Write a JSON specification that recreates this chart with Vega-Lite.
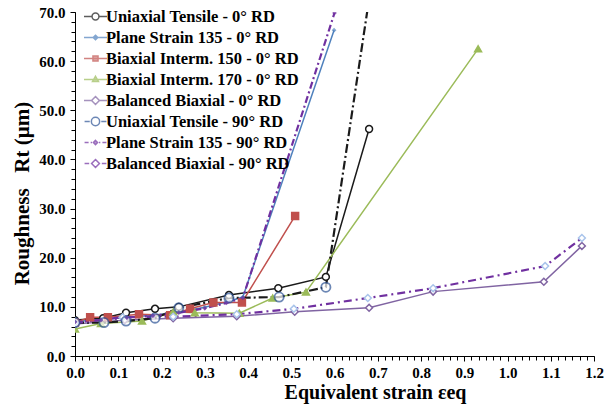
{
  "$schema": "https://vega.github.io/schema/vega-lite/v6.json",
  "width": 519,
  "height": 344,
  "autosize": {"type": "none"},
  "padding": {"left": 75, "top": 12, "right": 17, "bottom": 58},
  "background": "white",
  "config": {"view": {"stroke": null}, "font": "Liberation Serif"},
  "data": {"values": [
    {"s": "Uniaxial Tensile - 0° RD", "x": 0, "y": 7.3},
    {"s": "Uniaxial Tensile - 0° RD", "x": 0.065, "y": 7.7},
    {"s": "Uniaxial Tensile - 0° RD", "x": 0.118, "y": 8.8},
    {"s": "Uniaxial Tensile - 0° RD", "x": 0.185, "y": 9.6},
    {"s": "Uniaxial Tensile - 0° RD", "x": 0.24, "y": 10.0},
    {"s": "Uniaxial Tensile - 0° RD", "x": 0.356, "y": 12.4},
    {"s": "Uniaxial Tensile - 0° RD", "x": 0.47, "y": 13.8},
    {"s": "Uniaxial Tensile - 0° RD", "x": 0.58, "y": 16.1},
    {"s": "Uniaxial Tensile - 0° RD", "x": 0.68, "y": 46.2},
    {"s": "Plane Strain 135 - 0° RD", "x": 0, "y": 7.0},
    {"s": "Plane Strain 135 - 0° RD", "x": 0.06, "y": 7.4},
    {"s": "Plane Strain 135 - 0° RD", "x": 0.12, "y": 7.9},
    {"s": "Plane Strain 135 - 0° RD", "x": 0.18, "y": 8.3},
    {"s": "Plane Strain 135 - 0° RD", "x": 0.24, "y": 8.9},
    {"s": "Plane Strain 135 - 0° RD", "x": 0.3, "y": 9.9},
    {"s": "Plane Strain 135 - 0° RD", "x": 0.35, "y": 11.0},
    {"s": "Plane Strain 135 - 0° RD", "x": 0.388, "y": 12.0},
    {"s": "Plane Strain 135 - 0° RD", "x": 0.599, "y": 66.3},
    {"s": "Biaxial Interm. 150 - 0° RD", "x": 0, "y": 6.8},
    {"s": "Biaxial Interm. 150 - 0° RD", "x": 0.035, "y": 7.9},
    {"s": "Biaxial Interm. 150 - 0° RD", "x": 0.076, "y": 7.9},
    {"s": "Biaxial Interm. 150 - 0° RD", "x": 0.148, "y": 8.5},
    {"s": "Biaxial Interm. 150 - 0° RD", "x": 0.22, "y": 8.3},
    {"s": "Biaxial Interm. 150 - 0° RD", "x": 0.266, "y": 9.6},
    {"s": "Biaxial Interm. 150 - 0° RD", "x": 0.32, "y": 10.9},
    {"s": "Biaxial Interm. 150 - 0° RD", "x": 0.386, "y": 10.9},
    {"s": "Biaxial Interm. 150 - 0° RD", "x": 0.509, "y": 28.5},
    {"s": "Biaxial Interm. 170 - 0° RD", "x": 0, "y": 5.5},
    {"s": "Biaxial Interm. 170 - 0° RD", "x": 0.06, "y": 6.6},
    {"s": "Biaxial Interm. 170 - 0° RD", "x": 0.155, "y": 7.1},
    {"s": "Biaxial Interm. 170 - 0° RD", "x": 0.227, "y": 9.0},
    {"s": "Biaxial Interm. 170 - 0° RD", "x": 0.277, "y": 8.8},
    {"s": "Biaxial Interm. 170 - 0° RD", "x": 0.38, "y": 8.7},
    {"s": "Biaxial Interm. 170 - 0° RD", "x": 0.457, "y": 11.8},
    {"s": "Biaxial Interm. 170 - 0° RD", "x": 0.534, "y": 13.0},
    {"s": "Biaxial Interm. 170 - 0° RD", "x": 0.932, "y": 62.5},
    {"s": "Balanced Biaxial - 0° RD", "x": 0, "y": 6.5},
    {"s": "Balanced Biaxial - 0° RD", "x": 0.115, "y": 7.3},
    {"s": "Balanced Biaxial - 0° RD", "x": 0.227, "y": 7.7},
    {"s": "Balanced Biaxial - 0° RD", "x": 0.374, "y": 8.1},
    {"s": "Balanced Biaxial - 0° RD", "x": 0.508, "y": 9.0},
    {"s": "Balanced Biaxial - 0° RD", "x": 0.68, "y": 9.8},
    {"s": "Balanced Biaxial - 0° RD", "x": 0.828, "y": 13.1},
    {"s": "Balanced Biaxial - 0° RD", "x": 1.084, "y": 15.1},
    {"s": "Balanced Biaxial - 0° RD", "x": 1.172, "y": 22.4},
    {"s": "Uniaxial Tensile - 90° RD", "x": 0, "y": 6.8},
    {"s": "Uniaxial Tensile - 90° RD", "x": 0.067, "y": 6.8},
    {"s": "Uniaxial Tensile - 90° RD", "x": 0.118, "y": 7.1},
    {"s": "Uniaxial Tensile - 90° RD", "x": 0.185, "y": 7.7},
    {"s": "Uniaxial Tensile - 90° RD", "x": 0.24, "y": 9.8},
    {"s": "Uniaxial Tensile - 90° RD", "x": 0.356, "y": 11.8},
    {"s": "Uniaxial Tensile - 90° RD", "x": 0.472, "y": 12.0},
    {"s": "Uniaxial Tensile - 90° RD", "x": 0.58, "y": 14.0},
    {"s": "Uniaxial Tensile - 90° RD", "x": 0.684, "y": 75.0},
    {"s": "Plane Strain 135 - 90° RD", "x": 0, "y": 6.9},
    {"s": "Plane Strain 135 - 90° RD", "x": 0.06, "y": 7.3},
    {"s": "Plane Strain 135 - 90° RD", "x": 0.12, "y": 7.8},
    {"s": "Plane Strain 135 - 90° RD", "x": 0.18, "y": 8.2},
    {"s": "Plane Strain 135 - 90° RD", "x": 0.24, "y": 8.8},
    {"s": "Plane Strain 135 - 90° RD", "x": 0.3, "y": 9.7},
    {"s": "Plane Strain 135 - 90° RD", "x": 0.35, "y": 10.8},
    {"s": "Plane Strain 135 - 90° RD", "x": 0.388, "y": 11.8},
    {"s": "Plane Strain 135 - 90° RD", "x": 0.6, "y": 69.8},
    {"s": "Balanced Biaxial - 90° RD", "x": 0, "y": 6.7},
    {"s": "Balanced Biaxial - 90° RD", "x": 0.11, "y": 7.9},
    {"s": "Balanced Biaxial - 90° RD", "x": 0.227, "y": 8.0},
    {"s": "Balanced Biaxial - 90° RD", "x": 0.374, "y": 8.5},
    {"s": "Balanced Biaxial - 90° RD", "x": 0.506, "y": 9.6},
    {"s": "Balanced Biaxial - 90° RD", "x": 0.677, "y": 11.8},
    {"s": "Balanced Biaxial - 90° RD", "x": 0.828, "y": 13.8},
    {"s": "Balanced Biaxial - 90° RD", "x": 1.087, "y": 18.3},
    {"s": "Balanced Biaxial - 90° RD", "x": 1.172, "y": 24.0}
  ]},
  "layer": [
    {
      "transform": [{"filter": {"field": "s", "oneOf": ["Uniaxial Tensile - 0° RD", "Plane Strain 135 - 0° RD", "Biaxial Interm. 150 - 0° RD", "Biaxial Interm. 170 - 0° RD", "Balanced Biaxial - 0° RD"]}}],
      "mark": {"type": "line", "clip": true, "strokeWidth": 1.5},
      "encoding": {
        "x": {"field": "x", "type": "quantitative", "scale": {"domain": [0, 1.2], "nice": false, "zero": false},
          "axis": {"values": [0, 0.1, 0.2, 0.3, 0.4, 0.5, 0.6, 0.7, 0.8, 0.9, 1.0, 1.1, 1.2], "format": ".1f", "grid": false, "tickSize": 5, "tickColor": "black", "domainColor": "black", "labelPadding": 4, "labelFont": "Liberation Serif", "labelFontSize": 15, "labelFontWeight": "bold", "labelColor": "black", "labelFlush": false, "title": "Equivalent strain εeq", "titleFont": "Liberation Serif", "titleFontSize": 20, "titleFontWeight": "bold", "titleColor": "black", "titlePadding": 2, "titleX": 300, "titleAlign": "center"}},
        "y": {"field": "y", "type": "quantitative", "scale": {"domain": [0, 70], "nice": false},
          "axis": {"values": [0, 10, 20, 30, 40, 50, 60, 70], "format": ".1f", "grid": false, "tickSize": 5, "tickColor": "black", "domainColor": "black", "labelPadding": 5, "labelFont": "Liberation Serif", "labelFontSize": 15, "labelFontWeight": "bold", "labelColor": "black", "labelFlush": false, "title": "Roughness\u00a0\u00a0\u00a0Rt (µm)", "titleFont": "Liberation Serif", "titleFontSize": 21, "titleFontWeight": "bold", "titleColor": "black", "titlePadding": 6, "titleY": 181, "titleAlign": "center"}},
        "color": {"field": "s", "type": "nominal", "legend": null,
          "scale": {"domain": ["Uniaxial Tensile - 0° RD", "Plane Strain 135 - 0° RD", "Biaxial Interm. 150 - 0° RD", "Biaxial Interm. 170 - 0° RD", "Balanced Biaxial - 0° RD", "Uniaxial Tensile - 90° RD", "Plane Strain 135 - 90° RD", "Balanced Biaxial - 90° RD"],
            "range": ["#1a1a1a", "#4F81BD", "#C0504D", "#9BBB59", "#8064A2", "#1a1a1a", "#7030A0", "#7030A0"]}}
      }
    },
    {
      "transform": [{"filter": {"field": "s", "oneOf": ["Uniaxial Tensile - 90° RD", "Plane Strain 135 - 90° RD", "Balanced Biaxial - 90° RD"]}}],
      "mark": {"type": "line", "clip": true, "strokeWidth": 2.2},
      "encoding": {
        "x": {"field": "x", "type": "quantitative", "axis": null},
        "y": {"field": "y", "type": "quantitative", "axis": null},
        "color": {"field": "s", "type": "nominal", "legend": null},
        "strokeDash": {"field": "s", "type": "nominal", "legend": null,
          "scale": {"domain": ["Uniaxial Tensile - 90° RD", "Plane Strain 135 - 90° RD", "Balanced Biaxial - 90° RD"], "range": [[9, 3, 2, 3], [7, 3, 2, 3], [8, 4, 2, 4]]}}
      }
    },
    {
      "transform": [{"filter": {"field": "s", "oneOf": ["Uniaxial Tensile - 0° RD", "Biaxial Interm. 150 - 0° RD", "Biaxial Interm. 170 - 0° RD", "Balanced Biaxial - 0° RD", "Balanced Biaxial - 90° RD"]}}],
      "mark": {"type": "point", "clip": true, "filled": true, "size": 48, "strokeWidth": 1.5, "opacity": 1},
      "encoding": {
        "x": {"field": "x", "type": "quantitative", "axis": {"orient": "bottom", "values": [0, 0.0167, 0.0333, 0.05, 0.0667, 0.0833, 0.1, 0.1167, 0.1333, 0.15, 0.1667, 0.1833, 0.2, 0.2167, 0.2333, 0.25, 0.2667, 0.2833, 0.3, 0.3167, 0.3333, 0.35, 0.3667, 0.3833, 0.4, 0.4167, 0.4333, 0.45, 0.4667, 0.4833, 0.5, 0.5167, 0.5333, 0.55, 0.5667, 0.5833, 0.6, 0.6167, 0.6333, 0.65, 0.6667, 0.6833, 0.7, 0.7167, 0.7333, 0.75, 0.7667, 0.7833, 0.8, 0.8167, 0.8333, 0.85, 0.8667, 0.8833, 0.9, 0.9167, 0.9333, 0.95, 0.9667, 0.9833, 1.0, 1.0167, 1.0333, 1.05, 1.0667, 1.0833, 1.1, 1.1167, 1.1333, 1.15, 1.1667, 1.1833, 1.2], "labels": false, "domain": false, "grid": false, "tickSize": 4, "tickColor": "black", "title": null}},
        "y": {"field": "y", "type": "quantitative", "axis": {"orient": "left", "values": [0, 2, 4, 6, 8, 10, 12, 14, 16, 18, 20, 22, 24, 26, 28, 30, 32, 34, 36, 38, 40, 42, 44, 46, 48, 50, 52, 54, 56, 58, 60, 62, 64, 66, 68, 70], "labels": false, "domain": false, "grid": false, "tickSize": 4, "tickColor": "black", "title": null}},
        "stroke": {"field": "s", "type": "nominal", "legend": null,
          "scale": {"domain": ["Uniaxial Tensile - 0° RD", "Biaxial Interm. 150 - 0° RD", "Biaxial Interm. 170 - 0° RD", "Balanced Biaxial - 0° RD", "Balanced Biaxial - 90° RD"], "range": ["#1a1a1a", "#C0504D", "#9BBB59", "#8064A2", "#A9C4EB"]}},
        "fill": {"field": "s", "type": "nominal", "legend": null,
          "scale": {"domain": ["Uniaxial Tensile - 0° RD", "Biaxial Interm. 150 - 0° RD", "Biaxial Interm. 170 - 0° RD", "Balanced Biaxial - 0° RD", "Balanced Biaxial - 90° RD"], "range": ["white", "#C0504D", "#9BBB59", "white", "white"]}},
        "shape": {"field": "s", "type": "nominal", "legend": null,
          "scale": {"domain": ["Uniaxial Tensile - 0° RD", "Biaxial Interm. 150 - 0° RD", "Biaxial Interm. 170 - 0° RD", "Balanced Biaxial - 0° RD", "Balanced Biaxial - 90° RD"], "range": ["circle", "square", "triangle-up", "diamond", "diamond"]}}
      }
    },
    {
      "transform": [{"filter": {"field": "s", "equal": "Uniaxial Tensile - 90° RD"}}],
      "mark": {"type": "point", "clip": true, "filled": true, "size": 85, "strokeWidth": 1.8, "stroke": "#2F5597", "fill": "white", "shape": "circle"},
      "encoding": {
        "x": {"field": "x", "type": "quantitative", "axis": null},
        "y": {"field": "y", "type": "quantitative", "axis": null}
      }
    },
    {
      "transform": [{"filter": {"field": "s", "oneOf": ["Plane Strain 135 - 0° RD", "Plane Strain 135 - 90° RD"]}}],
      "mark": {"type": "point", "clip": true, "filled": true, "size": 22, "shape": "diamond"},
      "encoding": {
        "x": {"field": "x", "type": "quantitative", "axis": null},
        "y": {"field": "y", "type": "quantitative", "axis": null},
        "fill": {"field": "s", "type": "nominal", "legend": null,
          "scale": {"domain": ["Plane Strain 135 - 0° RD", "Plane Strain 135 - 90° RD"], "range": ["#4F81BD", "#7030A0"]}}
      }
    },
    {
      "transform": [{"filter": "datum.x > 5"}],
      "mark": {"type": "point", "filled": true},
      "encoding": {
        "x": {"field": "x", "type": "quantitative", "axis": null},
        "y": {"field": "y", "type": "quantitative", "axis": null},
        "shape": {"field": "s", "type": "nominal",
          "scale": {"domain": ["Uniaxial Tensile - 0° RD", "Plane Strain 135 - 0° RD", "Biaxial Interm. 150 - 0° RD", "Biaxial Interm. 170 - 0° RD", "Balanced Biaxial - 0° RD", "Uniaxial Tensile - 90° RD", "Plane Strain 135 - 90° RD", "Balanced Biaxial - 90° RD"],
            "range": [
              "M-1,0H-0.3M0.3,0H1M0.3,0A0.3,0.3 0 1 1 -0.3,0A0.3,0.3 0 1 1 0.3,0Z",
              "M-1,0H1M0,-0.2L0.2,0L0,0.2L-0.2,0Z",
              "M-1,0H1M-0.22,-0.22H0.22V0.22H-0.22Z",
              "M-1,0H1M0,-0.28L0.26,0.18H-0.26Z",
              "M-1,0H-0.34M0.34,0H1M0,-0.34L0.34,0L0,0.34L-0.34,0Z",
              "M-0.95,0H-0.5M0.5,0H0.95M0.36,0A0.36,0.36 0 1 1 -0.36,0A0.36,0.36 0 1 1 0.36,0Z",
              "M-0.95,0H-0.6M-0.42,0H-0.3M0.3,0H0.42M0.6,0H0.95M0,-0.18L0.18,0L0,0.18L-0.18,0Z",
              "M-0.95,0H-0.55M0.55,0H0.95M0,-0.34L0.34,0L0,0.34L-0.34,0Z"]},
          "legend": {"title": null, "orient": "none", "legendX": 8, "legendY": -8, "padding": 0, "symbolSize": 529, "symbolStrokeWidth": 1.5, "labelFont": "Liberation Serif", "labelFontSize": 16.5, "labelFontWeight": "bold", "labelColor": "black", "labelOffset": -2, "rowPadding": -1.3, "labelLimit": 400}},
        "stroke": {"field": "s", "type": "nominal",
          "scale": {"domain": ["Uniaxial Tensile - 0° RD", "Plane Strain 135 - 0° RD", "Biaxial Interm. 150 - 0° RD", "Biaxial Interm. 170 - 0° RD", "Balanced Biaxial - 0° RD", "Uniaxial Tensile - 90° RD", "Plane Strain 135 - 90° RD", "Balanced Biaxial - 90° RD"],
            "range": ["#1a1a1a", "#4F81BD", "#C0504D", "#9BBB59", "#8064A2", "#2F5597", "#7030A0", "#7030A0"]},
          "legend": {"title": null, "orient": "none", "legendX": 8, "legendY": -8, "padding": 0, "symbolSize": 529, "symbolStrokeWidth": 1.5, "labelFont": "Liberation Serif", "labelFontSize": 16.5, "labelFontWeight": "bold", "labelColor": "black", "labelOffset": -2, "rowPadding": -1.3, "labelLimit": 400}},
        "fill": {"field": "s", "type": "nominal",
          "scale": {"domain": ["Uniaxial Tensile - 0° RD", "Plane Strain 135 - 0° RD", "Biaxial Interm. 150 - 0° RD", "Biaxial Interm. 170 - 0° RD", "Balanced Biaxial - 0° RD", "Uniaxial Tensile - 90° RD", "Plane Strain 135 - 90° RD", "Balanced Biaxial - 90° RD"],
            "range": ["white", "#4F81BD", "#C0504D", "#9BBB59", "white", "white", "#7030A0", "white"]},
          "legend": {"title": null, "orient": "none", "legendX": 8, "legendY": -8, "padding": 0, "symbolSize": 529, "symbolStrokeWidth": 1.5, "labelFont": "Liberation Serif", "labelFontSize": 16.5, "labelFontWeight": "bold", "labelColor": "black", "labelOffset": -2, "rowPadding": -1.3, "labelLimit": 400}}
      }
    }
  ],
  "resolve": {
    "scale": {"shape": "independent", "stroke": "independent", "fill": "independent"},
    "axis": {"x": "independent", "y": "independent"}
  }
}
